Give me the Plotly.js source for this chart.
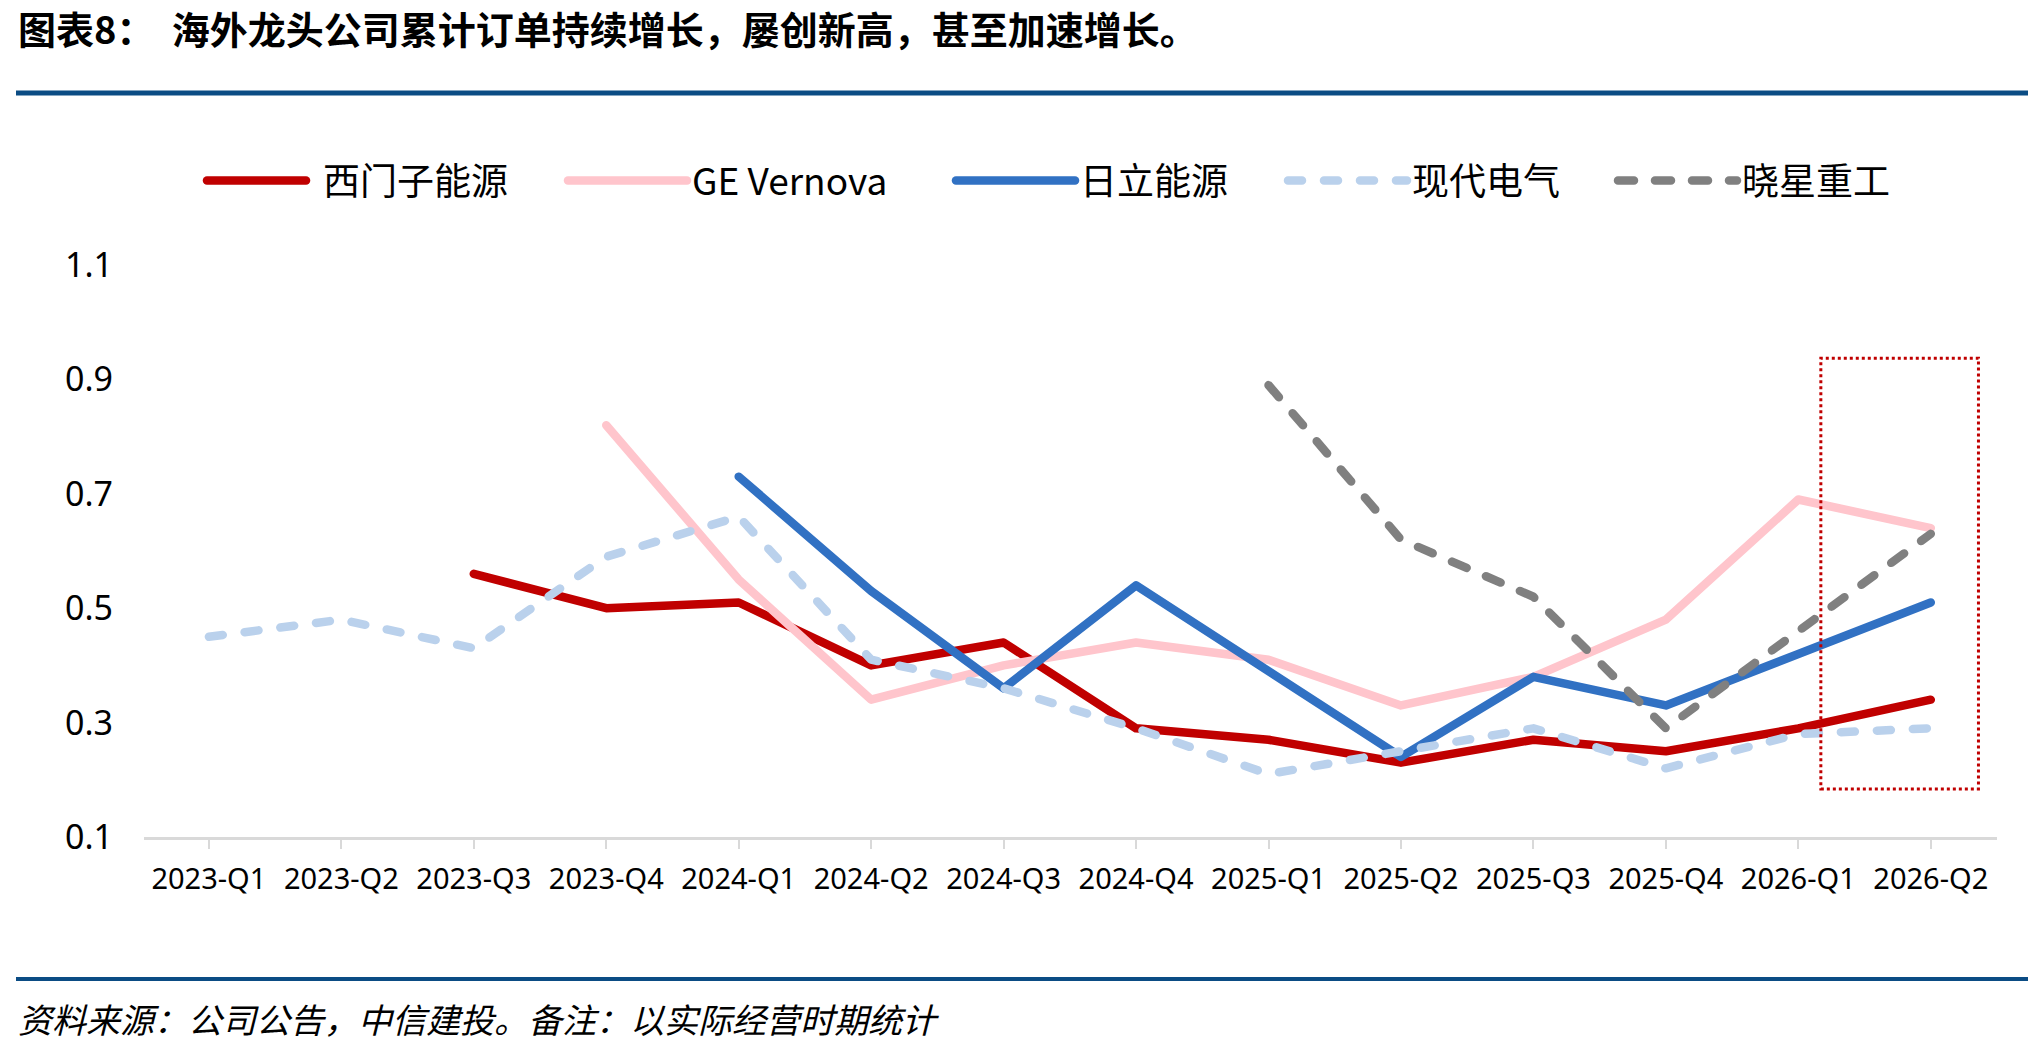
<!DOCTYPE html>
<html>
<head>
<meta charset="utf-8">
<script src="https://cdn.plot.ly/plotly-3.0.1.min.js"></script>
<style>
  html, body { margin: 0; padding: 0; background: #fff; }
  #chart { width: 2028px; height: 1044px; }
  .js-line, .legendlines path { stroke-linecap: round !important; stroke-linejoin: round !important; }
</style>
</head>
<body>
<div id="chart"></div>
<script>
'use strict';

var quarters = ['2023-Q1', '2023-Q2', '2023-Q3', '2023-Q4',
    '2024-Q1', '2024-Q2', '2024-Q3', '2024-Q4',
    '2025-Q1', '2025-Q2', '2025-Q3', '2025-Q4',
    '2026-Q1', '2026-Q2'];

var siemensEnergy = [null, null, 0.56, 0.50, 0.51, 0.40, 0.44, 0.29, 0.27, 0.23, 0.27, 0.25, 0.29, 0.34];
var geVernova = [null, null, null, 0.82, 0.55, 0.34, 0.40, 0.44, 0.41, 0.33, 0.38, 0.48, 0.69, 0.64];
var hitachiEnergy = [null, null, null, null, 0.73, 0.53, 0.36, 0.54, 0.39, 0.24, 0.38, 0.33, 0.42, 0.51];
var hyundaiElectric = [0.45, 0.48, 0.43, 0.59, 0.66, 0.41, 0.36, 0.29, 0.21, 0.25, 0.29, 0.22, 0.28, 0.29];
var hyosungHeavy = [null, null, null, null, null, null, null, null, 0.89, 0.62, 0.52, 0.29, 0.46, 0.63];

var seriesNames = ['西门子能源', 'GE Vernova', '日立能源', '现代电气', '晓星重工'];
var yTicks = [0.1, 0.3, 0.5, 0.7, 0.9, 1.1];

// plot area in pixels, used to place the page furniture in paper coords
var L = 144, R = 1997, T = 265, B = 837;
function px(x) { return (x - L) / (R - L); }
function py(y) { return (B - y) / (B - T); }

var FONT = '"Noto Sans", "Noto Sans CJK SC", sans-serif';
var CJK = '"Noto Sans CJK SC", "Noto Sans", sans-serif';

function line(name, values, color, dash, legendId) {
    return {
        x: quarters,
        y: values,
        name: name,
        type: 'scatter',
        mode: 'lines',
        line: {color: color, width: 8.5, dash: dash},
        legend: legendId,
        hoverinfo: 'skip'
    };
}

var data = [
    line(seriesNames[0], siemensEnergy, '#C00000', 'solid', 'legend'),
    line(seriesNames[1], geVernova, '#FFC5CC', 'solid', 'legend2'),
    line(seriesNames[2], hitachiEnergy, '#3171C3', 'solid', 'legend3'),
    line(seriesNames[3], hyundaiElectric, '#BAD1EC', '14px,22px', 'legend4'),
    line(seriesNames[4], hyosungHeavy, '#808080', '16px,21px', 'legend5')
];

// text left edges of the legend entries
var legendTextX = [323, 692, 1080, 1412, 1742];

function legendAt(i) {
    return {
        orientation: 'h',
        x: px(legendTextX[i] - 129),
        xanchor: 'left',
        y: py(181),
        yanchor: 'middle',
        itemwidth: 119,
        bgcolor: 'rgba(0,0,0,0)',
        borderwidth: 0,
        font: {family: CJK, size: 37, color: '#000'}
    };
}

var layout = {
    width: 2028,
    height: 1044,
    margin: {l: L, r: 2028 - R, t: T, b: 1044 - B, pad: 0},
    paper_bgcolor: '#fff',
    plot_bgcolor: '#fff',
    showlegend: true,
    legend: legendAt(0),
    legend2: legendAt(1),
    legend3: legendAt(2),
    legend4: legendAt(3),
    legend5: legendAt(4),
    xaxis: {
        type: 'category',
        range: [-0.49, 13.5],
        showgrid: false,
        zeroline: false,
        showline: true,
        linecolor: '#D9D9D9',
        linewidth: 3,
        ticks: 'outside',
        ticklen: 9,
        tickwidth: 2,
        tickcolor: '#D9D9D9',
        ticklabelstandoff: 5,
        tickfont: {family: FONT, size: 29, color: '#000'}
    },
    yaxis: {
        range: [0.1, 1.1],
        tickvals: yTicks,
        ticktext: yTicks.map(function (v) { return v.toFixed(1); }),
        showgrid: false,
        zeroline: false,
        showline: false,
        ticks: '',
        ticklabelstandoff: 30,
        tickfont: {family: FONT, size: 34, color: '#000'}
    },
    shapes: [
        {type: 'line', xref: 'paper', yref: 'paper', x0: px(16), x1: px(2028), y0: py(93), y1: py(93),
            line: {color: '#0B4C84', width: 5}},
        {type: 'line', xref: 'paper', yref: 'paper', x0: px(16), x1: px(2028), y0: py(979), y1: py(979),
            line: {color: '#0B4C84', width: 4}},
        {type: 'rect', xref: 'x', yref: 'y', x0: 12.17, x1: 13.36, y0: 0.184, y1: 0.937,
            line: {color: '#C00000', width: 3, dash: 'dot'}, fillcolor: 'rgba(0,0,0,0)'}
    ],
    annotations: [
        {xref: 'paper', yref: 'paper', x: px(16), y: py(28), xanchor: 'left', yanchor: 'middle',
            showarrow: false, text: '<b>图表8：\u00A0\u00A0海外龙头公司累计订单持续增长，屡创新高，甚至加速增长。</b>',
            font: {family: CJK, size: 38, color: '#000'}},
        {xref: 'paper', yref: 'paper', x: px(16), y: py(1018), xanchor: 'left', yanchor: 'middle',
            showarrow: false, text: '<i>资料来源：公司公告，中信建投。备注：以实际经营时期统计</i>',
            font: {family: CJK, size: 34, color: '#000'}}
    ]
};

Plotly.newPlot('chart', data, layout, {staticPlot: true, displayModeBar: false}).then(function (gd) {
    // stretch the legend samples to the long strokes of the original
    gd.querySelectorAll('.infolayer g.traces').forEach(function (g) {
        var txt = g.querySelector('.legendtext');
        var path = g.querySelector('.legendlines path');
        if (!txt || !path) return;
        var left = txt.getBoundingClientRect().left;
        var m = path.parentNode.getScreenCTM();
        var end = (left - m.e) / m.a - 17;
        path.setAttribute('d', 'M' + (end - 99) + ',0h99');
    });
});
</script>
</body>
</html>
